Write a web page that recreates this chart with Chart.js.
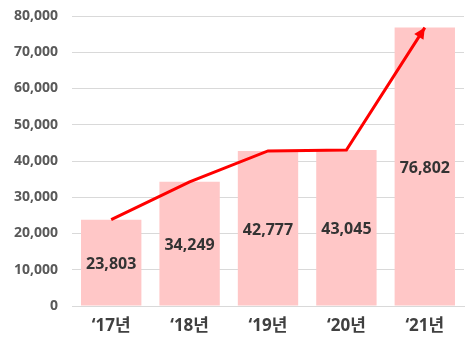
<!DOCTYPE html>
<html>
<head>
<meta charset="utf-8">
<script src="https://cdn.jsdelivr.net/npm/chart.js@4"></script>
<style>
  html, body { margin: 0; padding: 0; background: #fff; }
  #wrap { width: 474px; height: 342px; }
</style>
</head>
<body>
<div id="wrap"><canvas id="graph"></canvas></div>
<script>
const years = ["\u201817년", "\u201818년", "\u201819년", "\u201820년", "\u201821년"];
const counts = [23803, 34249, 42777, 43045, 76802];
const yTicks = [0, 10000, 20000, 30000, 40000, 50000, 60000, 70000, 80000];

const fontFamily = "'Noto Sans', 'Noto Sans CJK KR', sans-serif";

// values in the middle of each bar + arrow head on the end of the line
const extras = {
    id: "extras",
    afterDatasetsDraw(chart) {
        const ctx = chart.ctx;
        const bars = chart.getDatasetMeta(0).data;
        ctx.save();
        ctx.font = "bold 16px " + fontFamily;
        ctx.fillStyle = "#333333";
        ctx.textAlign = "center";
        ctx.textBaseline = "middle";
        bars.forEach((b, i) => {
            ctx.fillText(counts[i].toLocaleString("en-US"), b.x, (b.y + b.base) / 2 + 2);
        });

        const pts = chart.getDatasetMeta(1).data;
        const p1 = pts[pts.length - 2], p2 = pts[pts.length - 1];
        const ang = Math.atan2(p2.y - p1.y, p2.x - p1.x);
        const len = 11, half = 5.5;
        ctx.fillStyle = "#ff0000";
        ctx.beginPath();
        ctx.moveTo(p2.x, p2.y);
        ctx.lineTo(p2.x - len * Math.cos(ang) + half * Math.sin(ang), p2.y - len * Math.sin(ang) - half * Math.cos(ang));
        ctx.lineTo(p2.x - len * Math.cos(ang) - half * Math.sin(ang), p2.y - len * Math.sin(ang) + half * Math.cos(ang));
        ctx.closePath();
        ctx.fill();
        ctx.restore();
    }
};

var chart = new Chart(document.getElementById("graph"), {
    type: "bar",
    data: {
        labels: years,
        datasets: [{
            type: "bar",
            data: counts,
            backgroundColor: "#ffc7c7",
            barPercentage: 0.77,
            categoryPercentage: 1,
            order: 2
        }, {
            type: "line",
            data: counts,
            borderColor: "#ff0000",
            borderWidth: 3,
            pointRadius: 0,
            tension: 0,
            order: 1
        }]
    },
    options: {
        responsive: true,
        maintainAspectRatio: false,
        animation: false,
        layout: {padding: {top: 16, right: 10, left: 0, bottom: 0}},
        plugins: {legend: {display: false}, tooltip: {enabled: false}},
        scales: {
            x: {
                grid: {display: false, drawTicks: false},
                border: {color: "#d9d9d9"},
                ticks: {
                    padding: 10,
                    color: "#404040",
                    font: {family: fontFamily, size: 17, weight: "bold"}
                },
                afterFit(scale) { scale.height = 36; }
            },
            y: {
                min: 0,
                max: 80000,
                afterBuildTicks(scale) { scale.ticks = yTicks.map(v => ({value: v})); },
                grid: {color: "#d9d9d9", drawTicks: false},
                border: {display: false},
                ticks: {
                    padding: 14,
                    color: "#595959",
                    font: {family: fontFamily, size: 14, weight: "bold"},
                    callback: v => v.toLocaleString("en-US")
                },
                afterFit(scale) {
                    scale.width = 72;
                    scale.paddingTop = 0;
                    scale.paddingBottom = 0;
                }
            }
        }
    },
    plugins: [extras]
});
</script>
</body>
</html>
